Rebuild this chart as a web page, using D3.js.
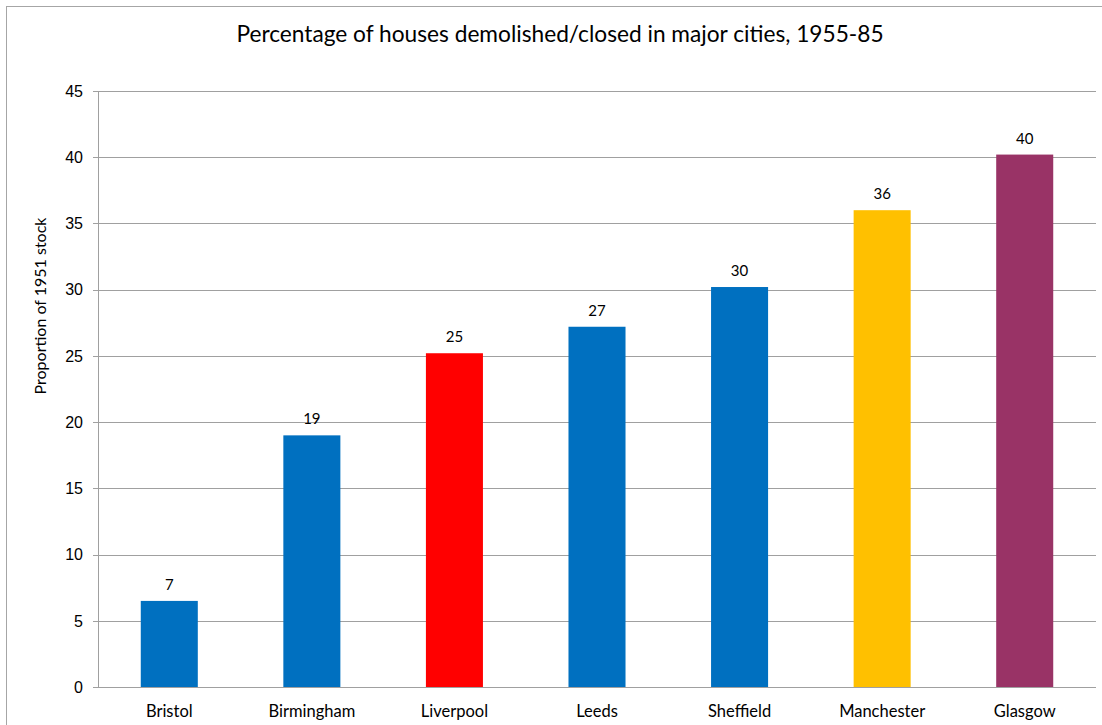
<!DOCTYPE html>
<html><head><meta charset="utf-8">
<script src="https://cdn.jsdelivr.net/npm/d3@7"></script>
<style>body{margin:0;background:#fff}</style>
</head><body>
<svg id="chart" width="1102" height="725"></svg>
<script>
const categories = ["Bristol","Birmingham","Liverpool","Leeds","Sheffield","Manchester","Glasgow"];
const values = [6.5, 19.0, 25.2, 27.2, 30.2, 36.0, 40.2];
const labels = ["7","19","25","27","30","36","40"];
const colors = ["#0070C0","#0070C0","#FF0000","#0070C0","#0070C0","#FFC000","#993366"];
const yTicks = [0,5,10,15,20,25,30,35,40,45];

const svg = d3.select("#chart");
const plotLeft = 98, plotRight = 1096, plotTop = 91, plotBottom = 687;

svg.append("rect").attr("x",6.5).attr("y",6.5).attr("width",1110).attr("height",730)
  .attr("fill","none").attr("stroke","#A6A6A6").attr("stroke-width",1);

const x = d3.scaleBand().domain(categories).range([plotLeft,plotRight]).paddingInner(0.6).paddingOuter(0.3);
const y = d3.scaleLinear().domain([0,45]).range([plotBottom,plotTop]);

// grid
svg.append("g").selectAll("line").data(yTicks).join("line")
  .attr("x1",plotLeft-5).attr("x2",plotRight).attr("y1",d=>Math.round(y(d))+0.5).attr("y2",d=>Math.round(y(d))+0.5)
  .attr("stroke","#A0A0A0").attr("stroke-width",1);

svg.append("line").attr("x1",plotLeft+0.5).attr("x2",plotLeft+0.5).attr("y1",plotTop).attr("y2",plotBottom)
  .attr("stroke","#A0A0A0");

// y labels
svg.append("g").selectAll("text").data(yTicks).join("text")
  .attr("x",83).attr("y",d=>y(d)).attr("dy","0.36em").attr("text-anchor","end")
  .attr("font-family","Liberation Sans, Arial, sans-serif").attr("font-size",16).attr("fill","#000")
  .text(d=>d);

// bars
svg.append("g").selectAll("rect").data(values).join("rect")
  .attr("x",(d,i)=>x(categories[i])).attr("width",x.bandwidth())
  .attr("y",d=>y(d)).attr("height",d=>y(0)-y(d))
  .attr("fill",(d,i)=>colors[i]);

// value labels
svg.append("g").selectAll("text").data(values).join("text")
  .attr("x",(d,i)=>x(categories[i])+x.bandwidth()/2).attr("y",d=>y(d)-11)
  .attr("text-anchor","middle").attr("font-family","Lato, Open Sans, sans-serif").attr("font-size",15)
  .text((d,i)=>labels[i]);

// category labels
svg.append("g").selectAll("text").data(categories).join("text")
  .attr("x",d=>x(d)+x.bandwidth()/2).attr("y",717)
  .attr("text-anchor","middle").attr("font-family","Lato, Open Sans, sans-serif").attr("font-size",16.5)
  .text(d=>d);

// title
svg.append("text").attr("x",560).attr("y",42).attr("text-anchor","middle")
  .attr("font-family","Lato, Open Sans, sans-serif").attr("font-size",22.7)
  .text("Percentage of houses demolished/closed in major cities, 1955-85");

// y axis title
svg.append("text").attr("transform","translate(46,306) rotate(-90)").attr("text-anchor","middle")
  .attr("font-family","Lato, Open Sans, sans-serif").attr("font-size",16)
  .text("Proportion of 1951 stock");
</script>
</body></html>
